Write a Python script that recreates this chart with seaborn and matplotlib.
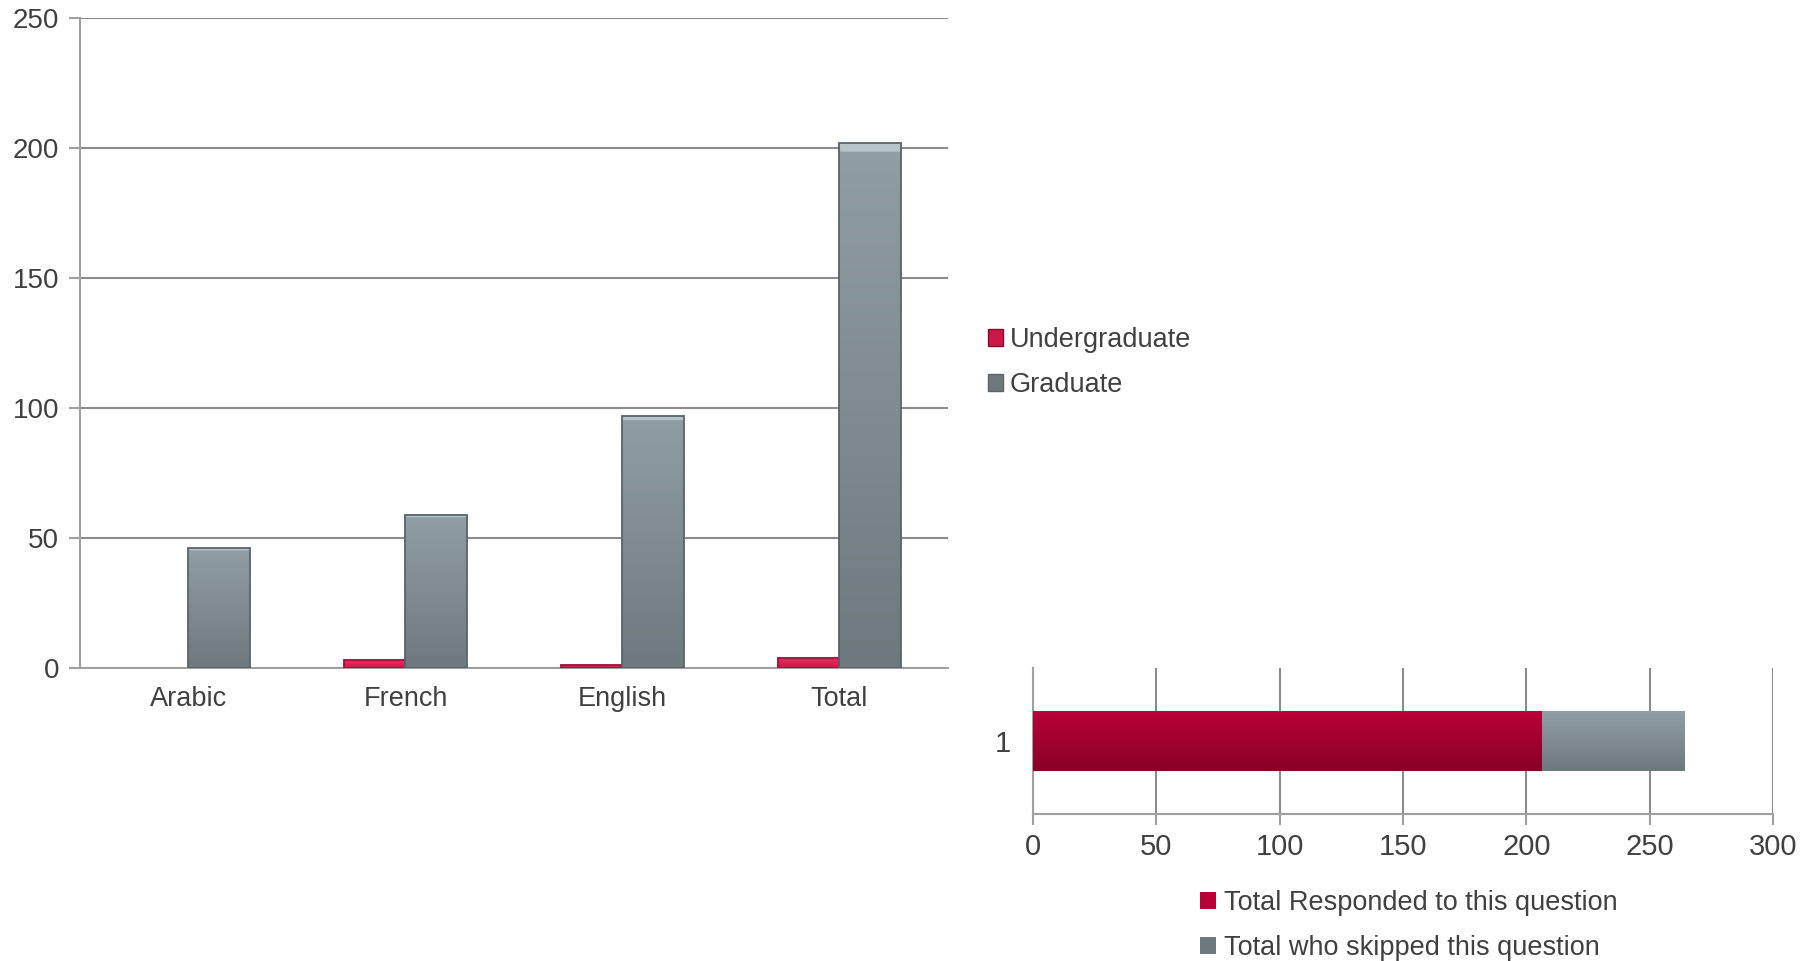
import numpy as np
import pandas as pd
import matplotlib
matplotlib.use("Agg")
import matplotlib.pyplot as plt
from matplotlib.patches import Patch, Polygon
from matplotlib.colors import LinearSegmentedColormap
import seaborn as sns

# ---- data ----
languages = ["Arabic", "French", "English", "Total"]
undergraduate = [0, 3, 1, 4]
graduate = [46, 59, 97, 202]
level_names = ["Undergraduate", "Graduate"]

response_row = ["1"]
responded = [206]
skipped = [58]
response_names = ["Total Responded to this question", "Total who skipped this question"]

# ---- style ----
sns.set_theme(style="white")
plt.rcParams["font.family"] = ["Liberation Sans", "DejaVu Sans"]
plt.rcParams["patch.edgecolor"] = "none"
TEXT = "#404040"
GRID = "#8c8c8c"
RED_LIGHT, RED_DARK = "#ec2d60", "#cc1749"
GREY_LIGHT, GREY_DARK = "#919ea4", "#6e797e"
RESP_LIGHT, RESP_DARK = "#b90036", "#880026"
NARROW = ["Liberation Sans Narrow", "Liberation Sans", "DejaVu Sans"]

fig = plt.figure(figsize=(18.08, 9.61), dpi=100)
fig.patch.set_facecolor("white")


def gradient_fill(ax, patch, top, bottom, edge=None):
    """Replace a bar's flat fill with a vertical colour gradient."""
    x0, y0 = patch.get_x(), patch.get_y()
    w, h = patch.get_width(), patch.get_height()
    if w == 0 or h == 0:
        patch.set_visible(False)
        return
    cmap = LinearSegmentedColormap.from_list("g", [bottom, top])
    grad = np.linspace(0, 1, 256).reshape(-1, 1)
    lo, hi = sorted([y0, y0 + h])
    origin = "lower" if not ax.yaxis_inverted() else "upper"
    img = ax.imshow(grad, cmap=cmap, aspect="auto", origin=origin,
                    extent=(x0, x0 + w, lo, hi), zorder=patch.get_zorder(),
                    interpolation="bicubic")
    img.set_clip_path(patch)
    patch.set_facecolor("none")
    if edge is not None:
        patch.set_edgecolor(edge)
        patch.set_linewidth(1.3)
    else:
        patch.set_edgecolor("none")
    patch.set_zorder(patch.get_zorder() + 0.2)


def bevel(ax, patch, light, px=9):
    """Light chamfer along the top edge of a column."""
    x0, y0 = patch.get_x(), patch.get_y()
    w, h = patch.get_width(), patch.get_height()
    if w == 0 or h == 0:
        return
    inv = ax.transData.inverted()
    p0 = inv.transform(ax.transData.transform((x0, y0 + h)) + np.array([px, -px]))
    dx = p0[0] - x0
    dy = min(y0 + h - p0[1], h * 0.45)
    poly = Polygon([(x0, y0 + h), (x0 + w, y0 + h), (x0 + w - dx, y0 + h - dy),
                    (x0 + dx, y0 + h - dy)], closed=True, facecolor=light,
                   edgecolor="none", alpha=0.75, zorder=patch.get_zorder() - 0.1)
    ax.add_patch(poly)


# ---- top chart: languages by level ----
ax1 = fig.add_axes([80 / 1808, 1 - 668 / 961, 868 / 1808, 650 / 961])
df = pd.DataFrame({
    "language": languages * 2,
    "count": undergraduate + graduate,
    "level": [level_names[0]] * len(languages) + [level_names[1]] * len(languages),
})
sns.barplot(data=df, x="language", y="count", hue="level", order=languages,
            hue_order=level_names, palette=[RED_DARK, GREY_DARK], width=0.57,
            saturation=1, ax=ax1, legend=False, zorder=3)
bars = list(ax1.patches)
for p in bars:
    fc = p.get_facecolor()
    if fc[0] > 0.5:
        gradient_fill(ax1, p, RED_LIGHT, RED_DARK, edge="#a30d38")
        bevel(ax1, p, "#f56a8e", px=3)
    else:
        gradient_fill(ax1, p, GREY_LIGHT, GREY_DARK, edge="#58636a")
        bevel(ax1, p, "#c4d2d8", px=11)

ax1.set_ylim(0, 250)
ax1.set_xlim(-0.5, len(languages) - 0.5)
ax1.set_yticks(np.arange(0, 251, 50))
ax1.yaxis.grid(True, color=GRID, linewidth=1.5)
ax1.set_axisbelow(True)
ax1.set_xlabel("")
ax1.set_ylabel("")
for s in ["top", "right"]:
    ax1.spines[s].set_visible(False)
for s in ["left", "bottom"]:
    ax1.spines[s].set_color("#a0a0a0")
    ax1.spines[s].set_linewidth(1.5)
ax1.set_xticks(np.arange(len(languages)))
ax1.set_xticklabels(languages)
ax1.set_xticks(np.arange(len(languages) + 1) - 0.5, minor=True)
ax1.tick_params(axis="x", which="major", length=0, pad=13, labelsize=19.5, labelcolor=TEXT)
ax1.tick_params(axis="x", which="minor", length=8, width=1.5, color="#a0a0a0", direction="out")
ax1.tick_params(axis="y", length=8, width=1.5, color="#a0a0a0", direction="out",
                labelsize=20, labelcolor=TEXT, pad=7, left=True)

fig.legend(
    handles=[Patch(facecolor=RED_DARK, edgecolor="#8a0d30"),
             Patch(facecolor=GREY_DARK, edgecolor="#5b6569")],
    labels=level_names, loc="upper left", bbox_to_anchor=(988 / 1808, 1 - 327 / 961),
    frameon=False, handlelength=0.55, handleheight=0.55, handletextpad=0.25,
    labelspacing=0.7, borderpad=0, borderaxespad=0, fontsize=19.5, labelcolor=TEXT)

# ---- bottom chart: responded vs skipped ----
ax2 = fig.add_axes([1033 / 1808, 1 - 814 / 961, 740 / 1808, 146 / 961])
totals = [r + s for r, s in zip(responded, skipped)]
sns.barplot(x=totals, y=response_row, orient="h", color=GREY_DARK, width=0.41,
            saturation=1, ax=ax2, zorder=3)
sns.barplot(x=responded, y=response_row, orient="h", color=RESP_DARK, width=0.41,
            saturation=1, ax=ax2, zorder=3)
ax2.set_ylim(0.5, -0.5)
for i, p in enumerate(ax2.patches):
    p.set_zorder(4 + i)
    if i == 0:
        gradient_fill(ax2, p, GREY_LIGHT, GREY_DARK)
    else:
        gradient_fill(ax2, p, RESP_LIGHT, RESP_DARK)

ax2.set_xlim(0, 300)
ax2.set_xticks(np.arange(0, 301, 50))
ax2.xaxis.grid(True, color=GRID, linewidth=1.5)
ax2.set_axisbelow(True)
ax2.set_xlabel("")
ax2.set_ylabel("")
for s in ["top", "right"]:
    ax2.spines[s].set_visible(False)
for s in ["left", "bottom"]:
    ax2.spines[s].set_color("#a0a0a0")
    ax2.spines[s].set_linewidth(1.5)
ax2.set_yticks([0])
ax2.set_yticklabels(response_row)
ax2.set_yticks([-0.5, 0.5], minor=True)
ax2.tick_params(axis="y", which="major", length=0, pad=16, labelcolor=TEXT)
ax2.tick_params(axis="y", which="minor", length=8, width=1.5, color="#a0a0a0", direction="out")
ax2.tick_params(axis="x", length=8, width=1.5, color="#a0a0a0", direction="out",
                labelcolor=TEXT, pad=6, bottom=True)
for lab in ax2.get_xticklabels() + ax2.get_yticklabels():
    lab.set_family(NARROW)
    lab.set_fontsize(21)

fig.legend(
    handles=[Patch(facecolor=RESP_LIGHT), Patch(facecolor=GREY_DARK)],
    labels=response_names, loc="upper left", bbox_to_anchor=(1200 / 1808, 1 - 890 / 961),
    frameon=False, handlelength=0.6, handleheight=0.6, handletextpad=0.3,
    labelspacing=0.7, borderpad=0, borderaxespad=0,
    prop={"family": NARROW, "size": 19.5}, labelcolor=TEXT)

fig.savefig("out.png", dpi=100, facecolor="white")
